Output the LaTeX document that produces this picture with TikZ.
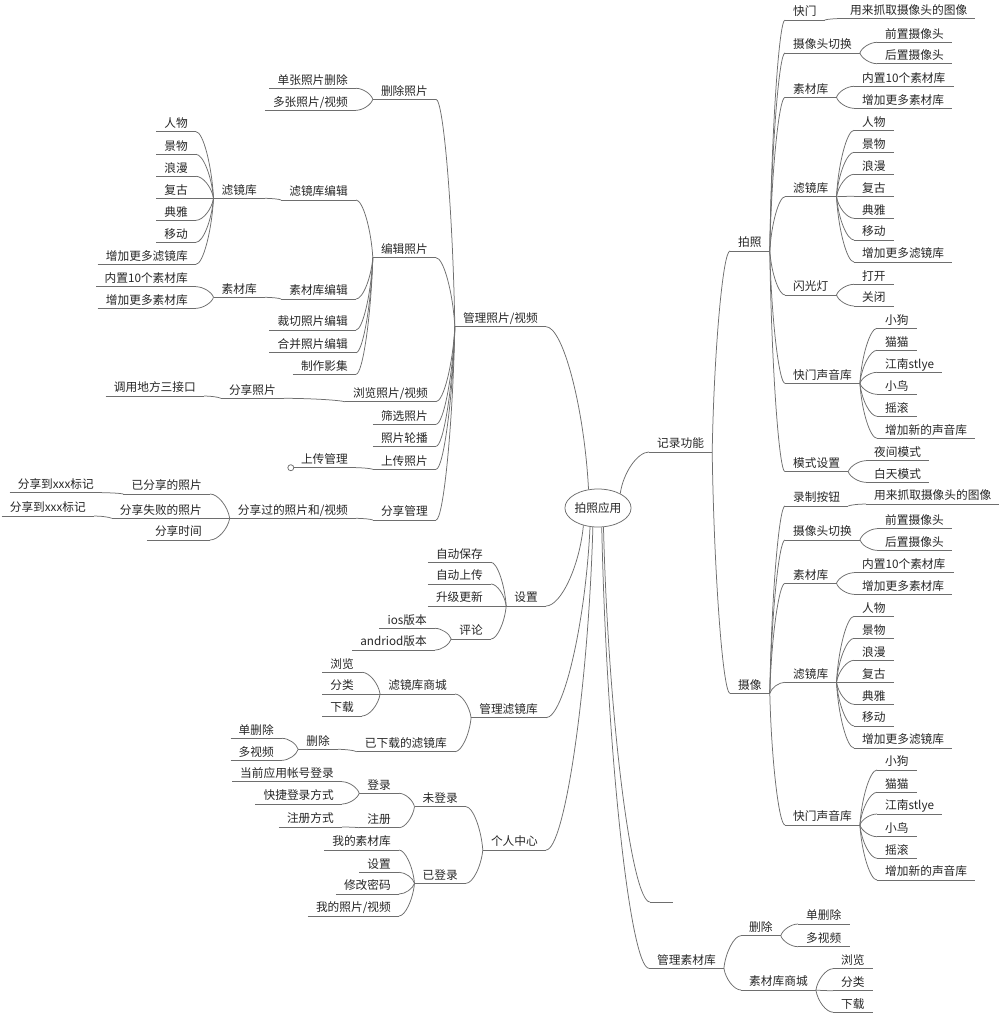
\documentclass[tikz,border=0pt]{standalone}
\usepackage{fontspec}
\setmainfont{Noto Sans CJK SC}
\usetikzlibrary{calc,shapes.geometric}
\definecolor{linec}{HTML}{6E6E6E}
\definecolor{txtc}{HTML}{262626}
\tikzset{
  lnk/.style={draw=linec, line width=0.75pt},
  base/.style={inner xsep=8pt, inner ysep=0pt, text height=9pt, text depth=4pt,
    font=\fontsize{11.7}{14}\selectfont, text=txtc},
  rnode/.style={base, anchor=south west},
  lnode/.style={base, anchor=south east},
  br/.style={lnk, to path={let \p1=(\tikztostart), \p2=(\tikztotarget) in
    .. controls ({\x1+0.1*(\x2-\x1)},{\y1+0.5*(\y2-\y1)}) and ({\x1+0.6*(\x2-\x1)},{\y2}) .. (\tikztotarget)}},
}
\newcommand\mmR[4]{\node[rnode] (#1) at ({#2-8},#3) {#4}; \draw[lnk] (#1.south west) -- (#1.south east);}
\newcommand\mmL[4]{\node[lnode] (#1) at ({#2+8},#3) {#4}; \draw[lnk] (#1.south west) -- (#1.south east);}
\newcommand\cR[2]{\draw[br] (#1.south east) to (#2.south west);}
\newcommand\cL[2]{\draw[br] (#1.south west) to (#2.south east);}
\begin{document}
\begin{tikzpicture}[x=1pt,y=-1pt]
\fill[white] (0,0) rectangle (999,1013);
\useasboundingbox (0,0) rectangle (999,1013);
% root
\node[ellipse, draw=linec, line width=0.75pt, minimum width=66pt, minimum height=38pt, inner sep=0pt,
  font=\fontsize{11.7}{14}\selectfont, text=txtc] (root) at (598,508) {拍照应用};
% ---------------- right side ----------------
\mmR{jl}{657}{452}{记录功能}
\mmR{pz}{738}{251}{拍照}
\mmR{km}{793}{20}{快门}
\mmR{km1}{850}{18.5}{用来抓取摄像头的图像}
\mmR{qh}{793}{53}{摄像头切换}
\mmR{qh1}{885}{42.3}{前置摄像头}
\mmR{qh2}{885}{63.7}{后置摄像头}
\mmR{sc}{793}{97.3}{素材库}
\mmR{sc1}{862}{86.3}{内置10个素材库}
\mmR{sc2}{862}{108.3}{增加更多素材库}
\mmR{lj}{793}{196.7}{滤镜库}
\mmR{lj1}{862}{130.3}{人物}
\mmR{lj2}{862}{152.3}{景物}
\mmR{lj3}{862}{174.3}{浪漫}
\mmR{lj4}{862}{196.3}{复古}
\mmR{lj5}{862}{218.3}{典雅}
\mmR{lj6}{862}{240}{移动}
\mmR{lj7}{862}{262}{增加更多滤镜库}
\mmR{sg}{793}{295}{闪光灯}
\mmR{sg1}{862}{284.3}{打开}
\mmR{sg2}{862}{306}{关闭}
\mmR{sy}{793}{383.3}{快门声音库}
\mmR{sy1}{885}{328.3}{小狗}
\mmR{sy2}{885}{350.3}{猫猫}
\mmR{sy3}{885}{372.3}{江南stlye}
\mmR{sy4}{885}{394.3}{小鸟}
\mmR{sy5}{885}{416.3}{摇滚}
\mmR{sy6}{885}{438.3}{增加新的声音库}
\mmR{ms}{793}{471.7}{模式设置}
\mmR{ms1}{874}{460.7}{夜间模式}
\mmR{ms2}{874}{482.3}{白天模式}
\mmR{sx}{738}{693.3}{摄像}
\mmR{lz}{793}{506}{录制按钮}
\mmR{lz1}{874}{504}{用来抓取摄像头的图像}
\mmR{bqh}{793}{540}{摄像头切换}
\mmR{bqh1}{885}{528.7}{前置摄像头}
\mmR{bqh2}{885}{550.3}{后置摄像头}
\mmR{bsc}{793}{583.3}{素材库}
\mmR{bsc1}{862}{572.7}{内置10个素材库}
\mmR{bsc2}{862}{594.3}{增加更多素材库}
\mmR{blj}{793}{682.3}{滤镜库}
\mmR{blj1}{862}{616.3}{人物}
\mmR{blj2}{862}{638.3}{景物}
\mmR{blj3}{862}{660.3}{浪漫}
\mmR{blj4}{862}{682.3}{复古}
\mmR{blj5}{862}{704.3}{典雅}
\mmR{blj6}{862}{726}{移动}
\mmR{blj7}{862}{748}{增加更多滤镜库}
\mmR{bsy}{793}{825}{快门声音库}
\mmR{bsy1}{885}{770}{小狗}
\mmR{bsy2}{885}{792.3}{猫猫}
\mmR{bsy3}{885}{814}{江南stlye}
\mmR{bsy4}{885}{836.7}{小鸟}
\mmR{bsy5}{885}{858.3}{摇滚}
\mmR{bsy6}{885}{880}{增加新的声音库}
\node[rnode, minimum width=23pt] (emp) at (650,902) {};
\draw[lnk] (emp.south west) -- (emp.south east);
\mmR{gs}{657}{968.3}{管理素材库}
\mmR{gs1}{749}{935.7}{删除}
\mmR{gs11}{806}{924}{单删除}
\mmR{gs12}{806}{946.7}{多视频}
\mmR{gs2}{749}{990}{素材库商城}
\mmR{gs21}{841}{968.7}{浏览}
\mmR{gs22}{841}{990.7}{分类}
\mmR{gs23}{841}{1012.2}{下载}
% ---------------- left side ----------------
\mmL{gl}{538}{326.7}{管理照片/视频}
\mmL{dp}{428}{99.3}{删除照片}
\mmL{dp1}{348}{88.3}{单张照片删除}
\mmL{dp2}{348}{110.3}{多张照片/视频}
\mmL{bj}{428}{257.7}{编辑照片}
\mmL{bj1}{348}{200}{滤镜库编辑}
\mmL{lk}{257}{198.3}{滤镜库}
\mmL{lk1}{188}{131.7}{人物}
\mmL{lk2}{188}{154.3}{景物}
\mmL{lk3}{188}{176.3}{浪漫}
\mmL{lk4}{188}{198.3}{复古}
\mmL{lk5}{188}{220.3}{典雅}
\mmL{lk6}{188}{242.3}{移动}
\mmL{lk7}{188}{264.3}{增加更多滤镜库}
\mmL{bj2}{348}{299}{素材库编辑}
\mmL{lm}{257}{297.3}{素材库}
\mmL{lm1}{188}{286.7}{内置10个素材库}
\mmL{lm2}{188}{308.3}{增加更多素材库}
\mmL{bj3}{348}{330}{裁切照片编辑}
\mmL{bj4}{348}{352.7}{合并照片编辑}
\mmL{bj5}{348}{374.3}{制作影集}
\mmL{ll}{428}{401.7}{浏览照片/视频}
\mmL{ll1}{276}{398.3}{分享照片}
\mmL{ll2}{196}{396}{调用地方三接口}
\mmL{sxp}{428}{424.3}{筛选照片}
\mmL{lb}{428}{446.3}{照片轮播}
\mmL{scz}{428}{469.3}{上传照片}
\mmL{scm}{348}{467.7}{上传管理}
\draw[lnk, fill=white] ([xshift=-2pt]scm.south west) circle (3pt);
\mmL{fx}{428}{520}{分享管理}
\mmL{fx1}{348}{518.3}{分享过的照片和/视频}
\mmL{fxa}{202}{494}{已分享的照片}
\mmL{fxa1}{94}{492.7}{分享到xxx标记}
\mmL{fxb}{202}{518.3}{分享失败的照片}
\mmL{fxb1}{86}{516}{分享到xxx标记}
\mmL{fxc}{202}{540}{分享时间}
\mmL{sz}{538}{606}{设置}
\mmL{sz1}{483}{562.3}{自动保存}
\mmL{sz2}{483}{584}{自动上传}
\mmL{sz3}{483}{606}{升级更新}
\mmL{pl}{483}{639}{评论}
\mmL{pl1}{427}{628.3}{ios版本}
\mmL{pl2}{427}{650}{andriod版本}
\mmL{gl2}{538}{717.7}{管理滤镜库}
\mmL{ls}{447}{694}{滤镜库商城}
\mmL{ls1}{354}{672.3}{浏览}
\mmL{ls2}{354}{694}{分类}
\mmL{ls3}{354}{716}{下载}
\mmL{yx}{447}{751.7}{已下载的滤镜库}
\mmL{yx1}{330}{749.3}{删除}
\mmL{yx11}{274}{738.3}{单删除}
\mmL{yx12}{274}{760.3}{多视频}
\mmL{gr}{538}{850}{个人中心}
\mmL{wd}{458}{806.7}{未登录}
\mmL{dl}{391}{793.3}{登录}
\mmL{dl1}{334}{781.7}{当前应用帐号登录}
\mmL{dl2}{334}{804}{快捷登录方式}
\mmL{zc}{391}{827.7}{注册}
\mmL{zc1}{334}{827}{注册方式}
\mmL{yd}{458}{883.3}{已登录}
\mmL{yd1}{391}{850}{我的素材库}
\mmL{yd2}{391}{872.3}{设置}
\mmL{yd3}{391}{894}{修改密码}
\mmL{yd4}{391}{916}{我的照片/视频}
% ---------------- connectors ----------------
\draw[br] (root.33) to (jl.south west);
\draw[br] (root.117) to (gl.south east);
\draw[br] (root.230) to (sz.south east);
\draw[br] (root.247) to (gl2.south east);
\draw[br] (root.255) to (gr.south east);
\draw[br] (root.286) to (emp.south west);
\draw[br] (root.281) to (gs.south west);
\foreach \c in {pz,sx} {\cR{jl}{\c}}
\foreach \c in {km,qh,sc,lj,sg,sy,ms} {\cR{pz}{\c}}
\cR{km}{km1}
\foreach \c in {qh1,qh2} {\cR{qh}{\c}}
\foreach \c in {sc1,sc2} {\cR{sc}{\c}}
\foreach \c in {lj1,lj2,lj3,lj4,lj5,lj6,lj7} {\cR{lj}{\c}}
\foreach \c in {sg1,sg2} {\cR{sg}{\c}}
\foreach \c in {sy1,sy2,sy3,sy4,sy5,sy6} {\cR{sy}{\c}}
\foreach \c in {ms1,ms2} {\cR{ms}{\c}}
\foreach \c in {lz,bqh,bsc,blj,bsy} {\cR{sx}{\c}}
\cR{lz}{lz1}
\foreach \c in {bqh1,bqh2} {\cR{bqh}{\c}}
\foreach \c in {bsc1,bsc2} {\cR{bsc}{\c}}
\foreach \c in {blj1,blj2,blj3,blj4,blj5,blj6,blj7} {\cR{blj}{\c}}
\foreach \c in {bsy1,bsy2,bsy3,bsy4,bsy5,bsy6} {\cR{bsy}{\c}}
\foreach \c in {gs1,gs2} {\cR{gs}{\c}}
\foreach \c in {gs11,gs12} {\cR{gs1}{\c}}
\foreach \c in {gs21,gs22,gs23} {\cR{gs2}{\c}}
\foreach \c in {dp,bj,ll,sxp,lb,scz,fx} {\cL{gl}{\c}}
\foreach \c in {dp1,dp2} {\cL{dp}{\c}}
\foreach \c in {bj1,bj2,bj3,bj4,bj5} {\cL{bj}{\c}}
\cL{bj1}{lk}
\foreach \c in {lk1,lk2,lk3,lk4,lk5,lk6,lk7} {\cL{lk}{\c}}
\cL{bj2}{lm}
\foreach \c in {lm1,lm2} {\cL{lm}{\c}}
\cL{ll}{ll1}
\cL{ll1}{ll2}
\cL{scz}{scm}
\cL{fx}{fx1}
\foreach \c in {fxa,fxb,fxc} {\cL{fx1}{\c}}
\cL{fxa}{fxa1}
\cL{fxb}{fxb1}
\foreach \c in {sz1,sz2,sz3,pl} {\cL{sz}{\c}}
\foreach \c in {pl1,pl2} {\cL{pl}{\c}}
\foreach \c in {ls,yx} {\cL{gl2}{\c}}
\foreach \c in {ls1,ls2,ls3} {\cL{ls}{\c}}
\cL{yx}{yx1}
\foreach \c in {yx11,yx12} {\cL{yx1}{\c}}
\foreach \c in {wd,yd} {\cL{gr}{\c}}
\foreach \c in {dl,zc} {\cL{wd}{\c}}
\foreach \c in {dl1,dl2} {\cL{dl}{\c}}
\cL{zc}{zc1}
\foreach \c in {yd1,yd2,yd3,yd4} {\cL{yd}{\c}}
\end{tikzpicture}
\end{document}
